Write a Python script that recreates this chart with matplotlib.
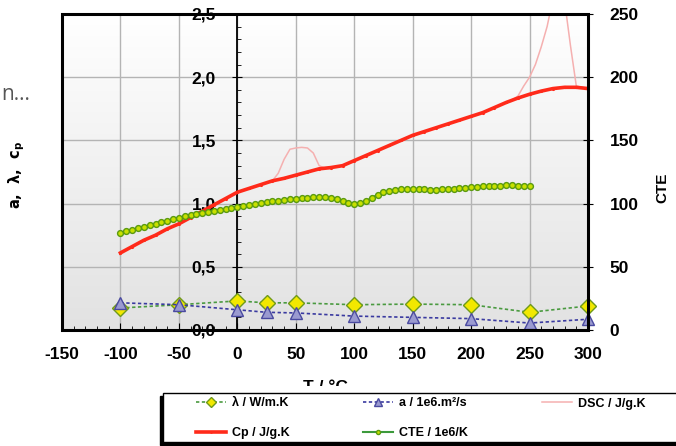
import numpy as np
import matplotlib
matplotlib.use("Agg")
import matplotlib.pyplot as plt
from matplotlib.patches import Rectangle
from matplotlib.ticker import MultipleLocator, FuncFormatter

plt.rcParams['font.family'] = ['Liberation Sans', 'DejaVu Sans']
plt.rcParams['axes.unicode_minus'] = False

# ---------------- data ----------------
cp_temp = [-100, -90, -80, -70, -60, -50, -40, -30, -20, -10, 0, 10, 20, 30, 40, 50, 60, 70, 80, 90,
           100, 110, 120, 130, 140, 150, 160, 170, 180, 190, 200, 210, 220, 230, 240, 250, 260, 270,
           280, 290, 300]
cp_val = [0.61, 0.66, 0.71, 0.75, 0.80, 0.84, 0.89, 0.94, 0.99, 1.04, 1.09, 1.12, 1.15, 1.18, 1.20,
          1.225, 1.25, 1.275, 1.285, 1.30, 1.34, 1.38, 1.42, 1.46, 1.50, 1.54, 1.57, 1.60, 1.63, 1.66,
          1.69, 1.72, 1.76, 1.80, 1.835, 1.865, 1.89, 1.91, 1.92, 1.92, 1.91]

dsc_temp = [30, 35, 40, 45, 50, 55, 60, 65, 70, 75, None,
            235, 240, 245, 250, 255, 260, 265, 270, 275, 280, 285, 290, 295, 300]
dsc_val = [1.18, 1.24, 1.35, 1.43, 1.44, 1.445, 1.44, 1.40, 1.30, 1.28, None,
           1.82, 1.85, 1.93, 2.00, 2.10, 2.24, 2.40, 2.62, 2.75, 2.60, 2.25, 1.93, 1.92, 1.91]

cte_temp = [-100, -95, -90, -85, -80, -75, -70, -65, -60, -55, -50, -45, -40, -35, -30, -25, -20, -15,
            -10, -5, 0, 5, 10, 15, 20, 25, 30, 35, 40, 45, 50, 55, 60, 65, 70, 75, 80, 85, 90, 95, 100,
            105, 110, 115, 120, 125, 130, 135, 140, 145, 150, 155, 160, 165, 170, 175, 180, 185, 190,
            195, 200, 205, 210, 215, 220, 225, 230, 235, 240, 245, 250]
cte_val = [77, 78, 79.2, 80.4, 81.6, 82.8, 84, 85.2, 86.4, 87.6, 88.8, 89.8, 90.8, 91.7, 92.5, 93.3,
           94.1, 94.9, 95.6, 96.3, 97, 97.8, 98.6, 99.4, 100.2, 101, 101.7, 102.4, 103, 103.6, 104,
           104.4, 104.7, 104.9, 105, 105, 104.6, 103.6, 102, 100.6, 100, 100.4, 102, 104.5, 107, 109,
           110.3, 111, 111.3, 111.4, 111.4, 111.3, 111.2, 111.1, 111.1, 111.2, 111.4, 111.7, 112,
           112.4, 112.8, 113.2, 113.6, 113.9, 114.1, 114.3, 114.4, 114.4, 114.3, 114, 113.6]

pt_temp = [-100, -50, 0, 25, 50, 100, 150, 200, 250, 300]
lambda_val = [0.174, 0.20, 0.23, 0.215, 0.215, 0.20, 0.205, 0.20, 0.14, 0.19]
a_val = [0.215, 0.20, 0.16, 0.14, 0.135, 0.11, 0.10, 0.09, 0.055, 0.085]

labels = ["λ / W/m.K", "Cp / J/g.K", "a / 1e6.m²/s", "CTE / 1e6/K", "DSC / J/g.K"]
x_ticks = [-150, -100, -50, 0, 50, 100, 150, 200, 250, 300]
y_ticks = [0.0, 0.5, 1.0, 1.5, 2.0, 2.5]
y2_ticks = [0, 50, 100, 150, 200, 250]

# ---------------- figure ----------------
W, H = 676, 446
fig = plt.figure(figsize=(W / 100, H / 100), dpi=100)
L, R, T, B = 62, 588, 14, 330
ax = fig.add_axes([L / W, 1 - B / H, (R - L) / W, (B - T) / H])
ax2 = ax.twinx()

ax.set_xlim(-150, 300)
ax.set_ylim(0, 2.5)
ax2.set_ylim(0, 250)

# background gradient
grad = np.linspace(0, 1, 256).reshape(-1, 1)
ax.imshow(grad, extent=[0, 1, 0, 1], transform=ax.transAxes, aspect='auto',
          cmap=matplotlib.colors.LinearSegmentedColormap.from_list('g', ['#e2e2e2', '#ffffff']),
          origin='lower', zorder=0)
ax.set_facecolor('white')

ax.set_xticks(x_ticks)
ax.set_yticks(y_ticks)
ax.xaxis.set_minor_locator(MultipleLocator(10))
ax.yaxis.set_minor_locator(MultipleLocator(0.1))
ax.grid(True, which='major', color='#b4b4b4', lw=1.0, zorder=0.5)
ax.set_axisbelow(True)

for s in ['top', 'right', 'bottom']:
    ax.spines[s].set_visible(False)
    ax2.spines[s].set_visible(False)
ax2.spines['left'].set_visible(False)
ax.spines['left'].set_position(('data', 0))
ax.spines['left'].set_linewidth(1.3)

fmt = FuncFormatter(lambda v, p: f"{v:.1f}".replace('.', ','))
ax.yaxis.set_major_formatter(fmt)

ax.tick_params(axis='x', which='major', direction='in', length=5, pad=12)
ax.tick_params(axis='x', which='minor', direction='in', length=3)
ax.tick_params(axis='y', which='major', direction='inout', length=7, pad=12)
ax.tick_params(axis='y', which='minor', direction='in', length=3)
ax2.set_yticks(y2_ticks)
ax2.tick_params(axis='y', which='major', direction='inout', length=7, pad=12)
for lab in ax.get_xticklabels() + ax.get_yticklabels() + ax2.get_yticklabels():
    lab.set_fontsize(12.5)
    lab.set_fontweight('bold')

# frame
ax.add_patch(Rectangle((0, 0), 1, 1, transform=ax.transAxes, fill=False, ec='black',
                       lw=2.2, zorder=6, clip_on=False))

# ---------------- series ----------------
dsc_x = np.array([np.nan if v is None else v for v in dsc_temp], dtype=float)
dsc_y = np.array([np.nan if v is None else v for v in dsc_val], dtype=float)
h_dsc, = ax.plot(dsc_x, dsc_y, color='#f5b0b0', lw=1.1, zorder=3)
h_cp, = ax.plot(cp_temp, cp_val, color='#ff2a1a', lw=2.6, marker='.', markersize=2.5, zorder=3.5)
h_lam, = ax.plot(pt_temp, lambda_val, color='#4a9a40', lw=1.2, ls=(0, (2, 1.5)),
                 marker='D', markersize=8, mfc='#f2e800', mec='#6f9a1a', mew=1.0, zorder=4,
                 clip_on=False)
h_a, = ax.plot(pt_temp, a_val, color='#3a3aa0', lw=1.2, ls=(0, (2, 1.5)),
               marker='^', markersize=8.5, mfc='#9a9ad0', mec='#4a4aa0', mew=1.0, zorder=4,
               clip_on=False)
h_cte, = ax2.plot(cte_temp, cte_val, color='#3c9a3c', lw=1.5, marker='o', markersize=4.2,
                  mfc='#c8e000', mec='#5a9a10', mew=1.0, zorder=3)

# ---------------- texts ----------------
ax2.set_ylabel("CTE", fontsize=11, fontweight='bold')
ax2.yaxis.set_label_coords((655 - L) / (R - L), 0.45)
fig.text(17 / W, 1 - 175 / H, "a,  λ,  c$_\\mathbf{p}$", rotation=90, ha='center', va='center',
         fontsize=10.5, fontweight='bold', family='DejaVu Sans')
fig.text(1 / W, 1 - 100 / H, "n…", ha='left', va='baseline', fontsize=15, color='#555555',
         family='Open Sans')
fig.text((L + R) / 2 / W, 1 - 380.5 / H, "T / °C", ha='center', va='top', fontsize=12.5,
         fontweight='bold')
fig.add_artist(Rectangle((0, 1 - 392 / H), 1, 6.5 / H, transform=fig.transFigure, fc='white',
                         ec='none', zorder=10))

# ---------------- legend ----------------
# box with shadow (left/bottom), extending past the right edge
fig.add_artist(Rectangle((160 / W, 1 - 445 / H), 560 / W, 49 / H, transform=fig.transFigure,
                         fc='black', ec='black', zorder=11))
fig.add_artist(Rectangle((163 / W, 1 - 442 / H), 560 / W, 49 / H, transform=fig.transFigure,
                         fc='white', ec='black', lw=1.0, zorder=12))
leg = fig.legend([h_lam, h_cp, h_a, h_cte, h_dsc], labels, ncol=3, loc='upper left',
                 bbox_to_anchor=(193 / W, 1 - 395 / H),
                 prop=dict(size=9, weight='bold'), frameon=False,
                 handlelength=2.4, borderpad=0.2, labelspacing=1.4, columnspacing=5.9,
                 borderaxespad=0, handletextpad=0.5, markerscale=0.7)
leg.set_zorder(13)

fig.savefig("out.png", dpi=100)
